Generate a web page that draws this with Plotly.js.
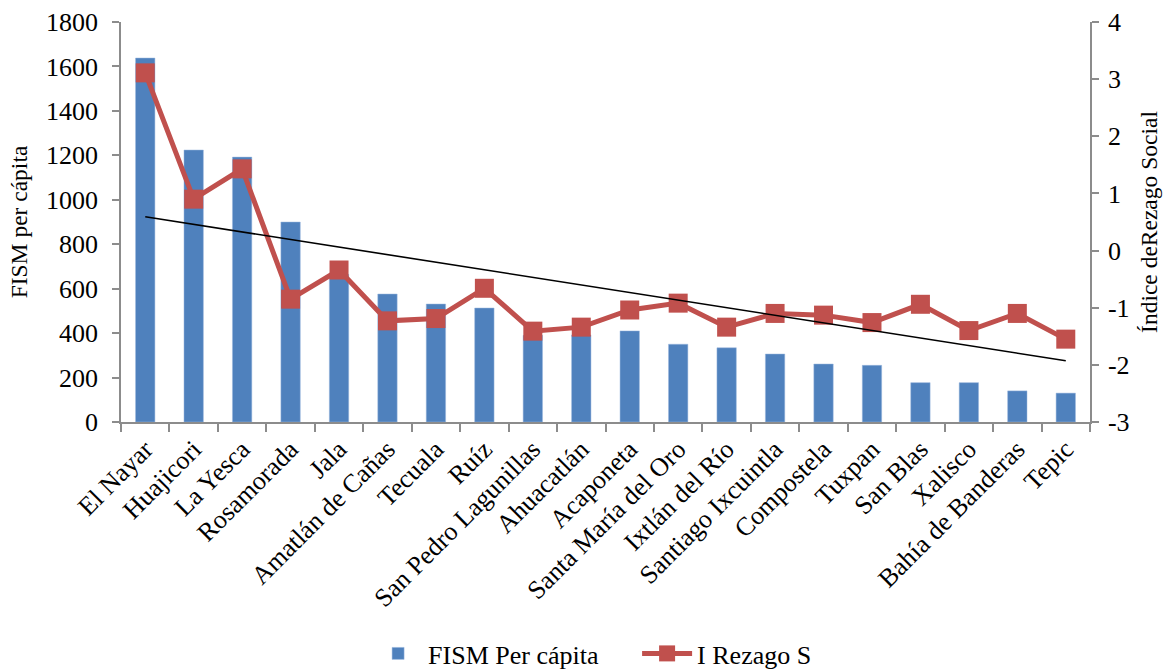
<!DOCTYPE html>
<html><head><meta charset="utf-8">
<script src="https://cdn.plot.ly/plotly-3.0.1.min.js"></script>
<style>html,body{margin:0;padding:0;background:#fff}</style>
</head><body><div id="chart" style="width:1172px;height:671px"></div>
<script>
const categories = ["El Nayar","Huajicori","La Yesca","Rosamorada","Jala","Amatlán de Cañas","Tecuala","Ruíz","San Pedro Lagunillas","Ahuacatlán","Acaponeta","Santa María del Oro","Ixtlán del Río","Santiago Ixcuintla","Compostela","Tuxpan","San Blas","Xalisco","Bahía de Banderas","Tepic"];
const fismPerCapita = [1638,1224,1192,900,665,576,531,513,390,392,410,350,334,306,261,255,177,177,140,130];
const rezagoSocial = [3.11,0.90,1.43,-0.85,-0.34,-1.23,-1.19,-0.66,-1.41,-1.34,-1.04,-0.92,-1.34,-1.10,-1.13,-1.26,-0.94,-1.40,-1.10,-1.55];
const rightTickVals = [-3,-2,-1,0,1,2,3,4];
const rightTickText = ["-3","-2","-1","0","1","2","3","4"];

// linear trend of rezago series (least squares over category index)
const n = rezagoSocial.length;
const idx = rezagoSocial.map((_, i) => i);
const mx = idx.reduce((a,b)=>a+b,0)/n;
const my = rezagoSocial.reduce((a,b)=>a+b,0)/n;
let sxy=0, sxx=0;
for (let i=0;i<n;i++){ sxy += (i-mx)*(rezagoSocial[i]-my); sxx += (i-mx)*(i-mx); }
const slope = sxy/sxx, intercept = my - slope*mx;
const trend = idx.map(i => intercept + slope*i);

const fam = "Liberation Serif";
const F = s => ({family: fam, size: s, color: "#000"});
const axisCol = "#8c8c8c";
const data = [
  {type:"bar", x:categories, y:fismPerCapita, name:"FISM Per cápita",
   marker:{color:"#4F81BD", line:{color:"#9DB9DE", width:0.5}}, yaxis:"y"},
  {type:"scatter", mode:"lines+markers", x:categories, y:rezagoSocial, name:"I Rezago S",
   line:{color:"#C0504D", width:5}, marker:{symbol:"square", size:19, color:"#C0504D"}, yaxis:"y2"},
  {type:"scatter", mode:"lines", x:categories, y:trend, showlegend:false,
   line:{color:"#000", width:1.6}, yaxis:"y2", hoverinfo:"skip"}
];
const layout = {
  width:1172, height:671,
  margin:{l:121, r:82, t:22, b:249, autoexpand:false},
  paper_bgcolor:"#fff", plot_bgcolor:"#fff",
  font: F(25),
  bargap:0.6,
  showlegend:true,
  legend:{orientation:"h", x:0.255, xanchor:"left", y:-0.52, yanchor:"top",
          font:F(26), traceorder:"normal", itemwidth:50, entrywidth:204},
  xaxis:{type:"category", range:[-0.5,19.5], tickangle:-45, showline:true, linecolor:axisCol, linewidth:1.5,
         ticks:"outside", tickson:"boundaries", ticklen:8, tickcolor:axisCol, tickwidth:1.5,
         tickfont:F(26), showgrid:false, zeroline:false, automargin:false},
  yaxis:{range:[0,1800], dtick:200, showline:true, linecolor:axisCol, linewidth:1.5,
         ticks:"outside", ticklen:7, tickcolor:axisCol, tickwidth:1.5, showgrid:false, zeroline:false,
         tickfont:F(26), ticklabelstandoff:9, automargin:false,
         title:{text:"FISM per cápita", font:F(23.5), standoff:12}},
  yaxis2:{range:[-3,4], tickmode:"array", tickvals:rightTickVals, ticktext:rightTickText,
          overlaying:"y", side:"right", showline:true,
          linecolor:axisCol, linewidth:1.5, ticks:"outside", ticklen:7, tickcolor:axisCol, tickwidth:1.5,
          showgrid:false, zeroline:false, tickfont:F(26), ticklabelstandoff:4, automargin:false,
          title:{text:"Índice deRezago Social", font:F(23.5), standoff:12}}
};
Plotly.newPlot("chart", data, layout, {displayModeBar:false});
</script></body></html>
